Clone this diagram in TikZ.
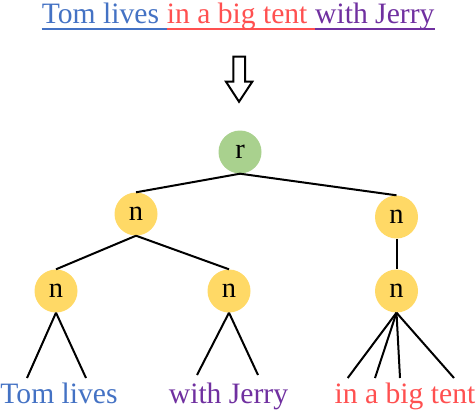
\documentclass[tikz,border=0pt]{standalone}
\usepackage{fontspec}
\setmainfont{Liberation Serif}
\definecolor{tblue}{HTML}{4472C4}
\definecolor{tred}{HTML}{FF5050}
\definecolor{tpurple}{HTML}{7030A0}
\definecolor{ngreen}{HTML}{A9D18E}
\definecolor{nyellow}{HTML}{FFD966}
\tikzset{
  tnode/.style={circle, minimum size=43pt, inner sep=0pt, font=\fontsize{28.5}{30}\selectfont},
  rootnode/.style={tnode, fill=ngreen},
  inode/.style={tnode, fill=nyellow},
  edge/.style={draw=black, line width=2pt},
  words/.style={inner sep=0pt, font=\fontsize{29.6}{31}\selectfont},
  uline/.style={line width=2pt}
}
\begin{document}
\begin{tikzpicture}[x=1pt,y=1pt]
\useasboundingbox (0,0) rectangle (476,-410);
% top sentence
\node[words, anchor=base west, text=tblue] (t1) at (41.7,-23) {Tom lives\ \null};
\node[words, anchor=base west, text=tred] (t2) at (t1.base east) {in a big tent\ \null};
\node[words, anchor=base west, text=tpurple] (t3) at (t2.base east) {with Jerry};
\draw[uline, tblue] ([yshift=-6]t1.base west) -- ([yshift=-6]t1.base east);
\draw[uline, tred] ([yshift=-6]t2.base west) -- ([yshift=-6]t2.base east);
\draw[uline, tpurple] ([yshift=-6]t3.base west) -- ([yshift=-6]t3.base east);
% hollow arrow
\draw[line width=2pt, line join=miter, fill=white] (233.3,-56.7) -- (245,-56.7) -- (245,-81.7) -- (252.3,-81.7) -- (239,-101.7) -- (226,-81.7) -- (233.3,-81.7) -- cycle;
% coordinates of leaf edge ends
\coordinate (a1) at (27,-378);
\coordinate (a2) at (86,-378);
\coordinate (b1) at (197,-375);
\coordinate (b2) at (258,-375);
\coordinate (c1) at (347.7,-378);
\coordinate (c2) at (375,-378);
\coordinate (c3) at (400,-378);
\coordinate (c4) at (454,-378);
% nodes
\node[rootnode] (r) at (240,-152) {r};
\node[inode] (n1) at (136,-214) {n};
\node[inode] (n2) at (396.5,-217) {n};
\node[inode] (n3) at (56,-291) {n};
\node[inode] (n4) at (229,-291) {n};
\node[inode] (n5) at (396.5,-291) {n};
% edges
\draw[edge] (r.south) -- (n1.north);
\draw[edge] (r.south) -- (n2.north);
\draw[edge] (n1.south) -- (n3.north);
\draw[edge] (n1.south) -- (n4.north);
\draw[edge] (n2.south) -- (n5.north);
\draw[edge] (n3.south) -- (a1);
\draw[edge] (n3.south) -- (a2);
\draw[edge] (n4.south) -- (b1);
\draw[edge] (n4.south) -- (b2);
\draw[edge] (n5.south) -- (c1);
\draw[edge] (n5.south) -- (c2);
\draw[edge] (n5.south) -- (c3);
\draw[edge] (n5.south) -- (c4);
% leaf texts
\node[words, anchor=base, text=tblue] (l1) at (59,-403) {Tom lives};
\node[words, anchor=base, text=tpurple] (l2) at (228.5,-403) {with Jerry};
\node[words, anchor=base, text=tred] (l3) at (405,-403) {in a big tent};
\end{tikzpicture}
\end{document}
